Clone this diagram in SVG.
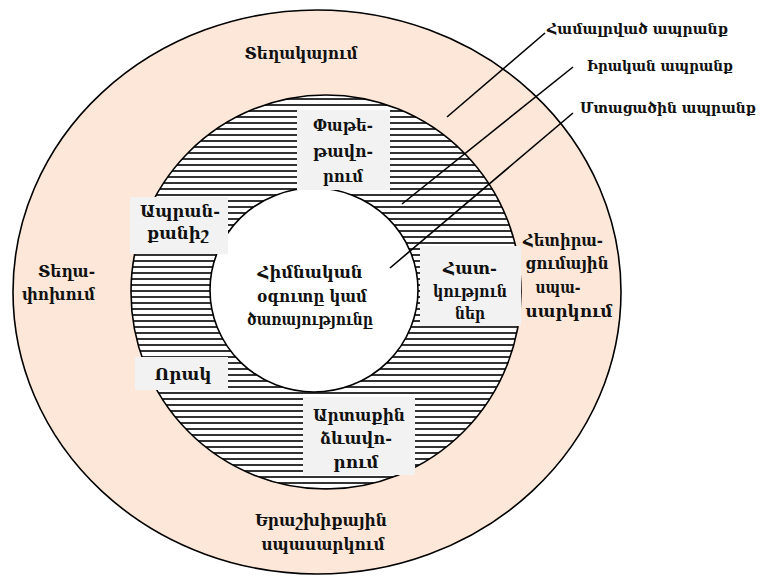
<svg xmlns="http://www.w3.org/2000/svg" width="765" height="578" viewBox="0 0 765 578">
<style>
.t{font-family:"DejaVu Serif","Noto Sans",serif;font-size:17px;font-weight:bold;fill:#111;text-anchor:middle}
.e{text-anchor:end}
.s{text-anchor:start;font-size:15.5px;font-stretch:condensed}
.box{fill:#f2f2f2;stroke:none}
.ring{stroke:#000;stroke-width:1.6}
.lead{stroke:#000;stroke-width:1.6;fill:none}
</style>
<defs>
<pattern id="hatch" patternUnits="userSpaceOnUse" x="0" y="0" width="10" height="6">
<rect width="10" height="6" fill="#fff"/>
<rect y="2" width="10" height="2" fill="#333"/>
</pattern>
</defs>
<g id="outer"><ellipse class="ring" cx="317" cy="292" rx="304" ry="282" fill="#fde7d8"/></g>
<g id="actual"><ellipse class="ring" cx="326" cy="292" rx="195" ry="197" fill="url(#hatch)"/></g>
<g id="core"><ellipse class="ring" cx="314" cy="290" rx="104" ry="102" fill="#fff"/>
<text class="t" x="310" y="278" textLength="105" lengthAdjust="spacingAndGlyphs">Հիմնական</text>
<text class="t" x="312" y="302" textLength="110" lengthAdjust="spacingAndGlyphs">օգուտը կամ</text>
<text class="t" x="310" y="325" textLength="126" lengthAdjust="spacingAndGlyphs">ծառայությունը</text></g>
<g id="n-packaging"><rect class="box" x="297" y="110" width="93" height="80"/>
<text class="t" x="343" y="131" textLength="60" lengthAdjust="spacingAndGlyphs">Փաթե-</text>
<text class="t" x="343" y="157" textLength="60" lengthAdjust="spacingAndGlyphs">թավո-</text>
<text class="t" x="343" y="182" textLength="40" lengthAdjust="spacingAndGlyphs">րում</text></g>
<g id="n-brand"><rect class="box" x="130" y="197" width="98" height="57"/>
<text class="t" x="180" y="217" textLength="80" lengthAdjust="spacingAndGlyphs">Ապրան-</text>
<text class="t" x="178" y="239" textLength="62" lengthAdjust="spacingAndGlyphs">քանիշ</text></g>
<g id="n-features"><rect class="box" x="420" y="246" width="101" height="80"/>
<text class="t" x="470" y="274" textLength="54" lengthAdjust="spacingAndGlyphs">Հատ-</text>
<text class="t" x="470" y="297" textLength="74" lengthAdjust="spacingAndGlyphs">կություն</text>
<text class="t" x="470" y="319" textLength="30" lengthAdjust="spacingAndGlyphs">ներ</text></g>
<g id="n-quality"><rect class="box" x="135" y="357" width="93" height="33"/>
<text class="t" x="183" y="380" textLength="57" lengthAdjust="spacingAndGlyphs">Որակ</text></g>
<g id="n-design"><rect class="box" x="303" y="397" width="112" height="78"/>
<text class="t" x="359" y="421" textLength="92" lengthAdjust="spacingAndGlyphs">Արտաքին</text>
<text class="t" x="356" y="444" textLength="72" lengthAdjust="spacingAndGlyphs">ձևավո-</text>
<text class="t" x="356" y="468" textLength="45" lengthAdjust="spacingAndGlyphs">րում</text></g>
<g id="n-delivery"><text class="t" x="301" y="59" textLength="113" lengthAdjust="spacingAndGlyphs">Տեղակայում</text></g>
<g id="n-transport"><text class="t e" x="95" y="277" textLength="57" lengthAdjust="spacingAndGlyphs">Տեղա-</text>
<text class="t e" x="95" y="300" textLength="73" lengthAdjust="spacingAndGlyphs">փոխում</text></g>
<g id="n-aftersale"><text class="t" x="563" y="246" textLength="80" lengthAdjust="spacingAndGlyphs">Հետիրա-</text>
<text class="t" x="567" y="269" textLength="83" lengthAdjust="spacingAndGlyphs">ցումային</text>
<text class="t" x="558" y="293" textLength="45" lengthAdjust="spacingAndGlyphs">սպա-</text>
<text class="t" x="569" y="317" textLength="87" lengthAdjust="spacingAndGlyphs">սարկում</text></g>
<g id="n-warranty"><text class="t" x="321" y="526" textLength="132" lengthAdjust="spacingAndGlyphs">Երաշխիքային</text>
<text class="t" x="323" y="550" textLength="123" lengthAdjust="spacingAndGlyphs">սպասարկում</text></g>
<g id="legend">
<text class="t s" x="547" y="34" textLength="181" lengthAdjust="spacingAndGlyphs">Համալրված ապրանք</text>
<text class="t s" x="587" y="71" textLength="146" lengthAdjust="spacingAndGlyphs">Իրական ապրանք</text>
<text class="t s" x="580" y="113" textLength="176" lengthAdjust="spacingAndGlyphs">Մտացածին ապրանք</text>
</g>
<g id="connectors">
<line class="lead" x1="545" y1="33" x2="447" y2="117"/>
<line class="lead" x1="573" y1="67" x2="402" y2="204"/>
<line class="lead" x1="573" y1="113" x2="390" y2="268"/>
</g>
</svg>
